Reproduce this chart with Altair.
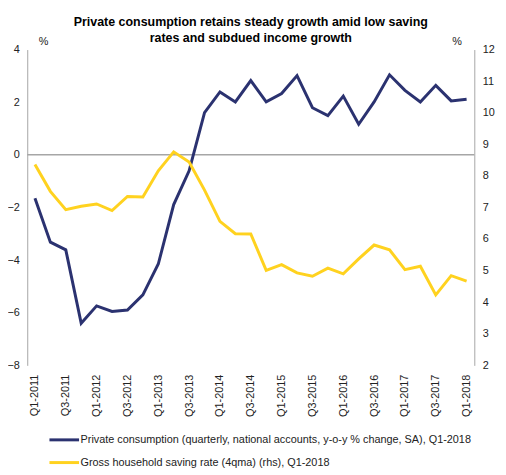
import altair as alt
import pandas as pd

quarters = [f"Q{q}-{y}" for y in range(2011, 2019) for q in range(1, 5)][:29]
consumption = [-1.65, -3.32, -3.61, -6.40, -5.74, -5.95, -5.90, -5.32, -4.15, -1.89,
               -0.61, 1.60, 2.39, 2.01, 2.82, 2.01, 2.33, 3.01, 1.79, 1.49,
               2.23, 1.16, 2.01, 3.04, 2.45, 2.01, 2.64, 2.05, 2.11]
saving = [8.36, 7.51, 6.93, 7.04, 7.11, 6.90, 7.35, 7.33, 8.16, 8.76,
          8.44, 7.55, 6.56, 6.17, 6.16, 5.01, 5.19, 4.93, 4.82, 5.08,
          4.90, 5.37, 5.81, 5.66, 5.03, 5.14, 4.23, 4.84, 4.67]
series_names = [
    "Private consumption (quarterly, national accounts, y-o-y % change, SA), Q1-2018",
    "Gross household saving rate (4qma) (rhs), Q1-2018",
]
colors = ["#2B3270", "#FFD21F"]
left_ticks = [-8, -6, -4, -2, 0, 2, 4]
right_ticks = [2, 3, 4, 5, 6, 7, 8, 9, 10, 11, 12]

FONT = "Liberation Sans"
GRAY = "#A6A6A6"

df = pd.DataFrame({
    "quarter": quarters * 2,
    "value": consumption + saving,
    "series": [series_names[0]] * len(quarters) + [series_names[1]] * len(quarters),
})

x_enc = alt.X(
    "quarter:O",
    sort=quarters,
    scale=alt.Scale(type="point", padding=0.5),
    axis=alt.Axis(values=quarters[::2], labelAngle=-90, domain=False, ticks=False,
                  labelPadding=9, title=None, labelFontSize=11, labelColor="#222222"),
)
color_enc = alt.Color(
    "series:N",
    scale=alt.Scale(domain=series_names, range=colors),
    sort=series_names,
    legend=alt.Legend(
        title=None, orient="none", legendX=21, legendY=379, direction="vertical",
        symbolType="stroke", symbolStrokeWidth=3, symbolSize=900,
        labelFontSize=11, labelLimit=700, labelOffset=0, rowPadding=0,
        labelColor="#222222",
    ),
)

left_axis = alt.Axis(values=left_ticks, grid=False, ticks=False, domainColor=GRAY,
                     labelPadding=8, title="%", titleAngle=0, titleX=16, titleY=-5,
                     titleAlign="center", titleBaseline="alphabetic",
                     titleFontWeight="normal", titleFontSize=11, labelFontSize=11,
                     labelColor="#222222", titleColor="#222222")
right_axis = alt.Axis(values=right_ticks, grid=False, ticks=False, domainColor=GRAY,
                      labelPadding=8, title="%", titleAngle=0, titleX=-18, titleY=-5,
                      titleAlign="center", titleBaseline="alphabetic",
                      titleFontWeight="normal", titleFontSize=11, labelFontSize=11,
                      labelColor="#222222", titleColor="#222222")

left_scale = alt.Scale(domain=[-8, 4], nice=False, zero=False)
right_scale = alt.Scale(domain=[2, 12], nice=False, zero=False)

zero_rule = alt.Chart(alt.Data(values=[{}])).mark_rule(color=GRAY, strokeWidth=1.5).encode(
    y=alt.Y(datum=0, type="quantitative", scale=left_scale, axis=left_axis)
)

line_a = alt.Chart(df).transform_filter(
    alt.datum.series == series_names[0]
).mark_line(strokeWidth=3).encode(
    x=x_enc,
    y=alt.Y("value:Q", scale=left_scale, axis=left_axis),
    color=color_enc,
)

line_b = alt.Chart(df).transform_filter(
    alt.datum.series == series_names[1]
).mark_line(strokeWidth=3).encode(
    x=x_enc,
    y=alt.Y("value:Q", scale=right_scale, axis=right_axis),
    color=color_enc,
)

chart = alt.layer(
    alt.layer(zero_rule, line_a),
    line_b,
).resolve_scale(y="independent").properties(
    width=453,
    height=320,
    autosize=alt.AutoSizeParams(type="none"),
    padding={"left": 19.5, "top": 39, "right": 24, "bottom": 108},
    title=alt.Title(
        ["Private consumption retains steady growth amid low saving",
         "rates and subdued income growth"],
        fontSize=12.6, font=FONT, fontWeight="bold", anchor="middle", offset=-8.5,
        color="#000000", lineHeight=16,
    ),
).configure(font=FONT).configure_view(stroke=None)

chart.save("out.html", embed_options={"renderer": "svg", "actions": False})
